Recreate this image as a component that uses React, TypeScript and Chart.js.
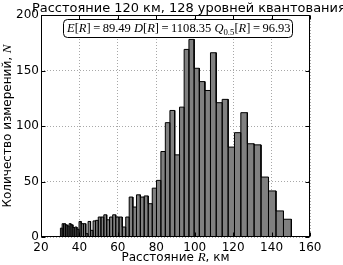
import { useEffect, useRef } from "react";
import { Chart, registerables } from "chart.js";

Chart.register(...registerables);

// Histogram bin edges (km) — non-uniform bins
const binEdges = [
  30.1, 31.0, 31.8, 32.7, 33.6, 34.6, 35.6, 36.6, 37.6, 38.7,
  39.8, 40.9, 42.1, 43.3, 44.5, 45.8, 47.1, 48.4, 49.8, 51.2,
  52.7, 54.2, 55.7, 57.3, 58.9, 60.6, 62.3, 64.1, 65.9, 67.8,
  69.7, 71.7, 73.7, 75.8, 77.9, 80.1, 82.4, 84.7, 87.1, 89.6,
  92.1, 94.5, 97.0, 99.7, 102.4, 105.3, 108.2, 111.2, 114.3, 117.4,
  120.7, 124.0, 127.4, 130.9, 134.5, 138.4, 142.3, 146.2, 150.3,
];

// Counts per bin
const counts = [
  8, 12, 12, 11, 10, 12, 11, 8.5, 9, 7,
  14, 12, 12, 3, 14, 6, 14.5, 15, 18, 18,
  20, 15.5, 18, 20, 18, 18, 9, 18, 36, 27,
  38, 36, 37, 30, 44, 51, 77, 103, 114, 74,
  117, 169, 178, 152, 140, 132, 166, 121, 124, 81,
  94, 112, 84, 83, 54, 41.5, 23.5, 16,
];

const xRange = [20, 160];
const yRange = [0, 200];
const xStep = 20;
const yStep = 50;

const titleText = "Расстояние 120 км, 128 уровней квантования";
const yLabelText = "Количество измерений, ";
const yLabelVar = "N";
const xLabelText = "Расстояние ";
const xLabelVar = "R";
const xLabelUnit = ", км";
const statE = "89.49";
const statD = "1108.35";
const statQ = "96.93";
const statQSub = "0.5";

const SANS = "'DejaVu Sans', sans-serif";
const SERIF = "'Liberation Serif', serif";

type Seg = { t: string; k: "i" | "r" | "s" };

function drawSegs(ctx: CanvasRenderingContext2D, segs: Seg[], x0: number, y: number, size: number, targetW: number) {
  const fontFor = (k: string, s: number) =>
    k === "i" ? `italic ${s}px ${SERIF}` : k === "s" ? `${s * 0.7}px ${SERIF}` : `${s}px ${SERIF}`;
  const measure = (s: number) => {
    let w = 0;
    for (const sg of segs) {
      ctx.font = fontFor(sg.k, s);
      w += ctx.measureText(sg.t).width;
    }
    return w;
  };
  const s = size * (targetW / measure(size));
  let x = x0;
  ctx.textBaseline = "alphabetic";
  ctx.textAlign = "left";
  for (const sg of segs) {
    ctx.font = fontFor(sg.k, s);
    ctx.fillText(sg.t, x, sg.k === "s" ? y + s * 0.22 : y);
    x += ctx.measureText(sg.t).width;
  }
}

const decorPlugin = {
  id: "decor",
  afterDraw(chart: any) {
    const ctx: CanvasRenderingContext2D = chart.ctx;
    const ca = chart.chartArea;
    const xs = chart.scales.x;
    const ys = chart.scales.y;
    ctx.save();
    ctx.fillStyle = "#000";
    ctx.strokeStyle = "#000";

    // frame
    const L = Math.round(ca.left) + 0.5;
    const R = Math.round(ca.right) - 0.5;
    const T = Math.round(ca.top) + 0.5;
    const B = Math.round(ca.bottom) - 0.5;
    ctx.lineWidth = 1;
    ctx.strokeRect(L, T, R - L, B - T);

    // inward ticks on all sides
    ctx.beginPath();
    for (let v = xRange[0]; v <= xRange[1]; v += xStep) {
      const px = Math.round(xs.getPixelForValue(v)) + 0.5;
      ctx.moveTo(px, B);
      ctx.lineTo(px, B - 4);
      ctx.moveTo(px, T);
      ctx.lineTo(px, T + 4);
    }
    for (let v = yRange[0]; v <= yRange[1]; v += yStep) {
      const py = Math.round(ys.getPixelForValue(v)) + 0.5;
      ctx.moveTo(L, py);
      ctx.lineTo(L + 4, py);
      ctx.moveTo(R, py);
      ctx.lineTo(R - 4, py);
    }
    ctx.stroke();

    // title
    ctx.font = `13px ${SANS}`;
    const tw = ctx.measureText(titleText).width;
    const ts = 13 * (314 / tw);
    ctx.font = `${ts}px ${SANS}`;
    ctx.textAlign = "left";
    ctx.textBaseline = "alphabetic";
    ctx.fillText(titleText, 32, 11.5);

    // x label
    const xl1 = `12px ${SANS}`;
    const xl2 = `italic 13px ${SERIF}`;
    ctx.font = xl1;
    const w1 = ctx.measureText(xLabelText).width;
    const w3 = ctx.measureText(xLabelUnit).width;
    ctx.font = xl2;
    const w2 = ctx.measureText(xLabelVar).width;
    const xc = (ca.left + ca.right) / 2;
    let xx = xc - (w1 + w2 + w3) / 2;
    ctx.font = xl1;
    ctx.fillText(xLabelText, xx, 261);
    xx += w1;
    ctx.font = xl2;
    ctx.fillText(xLabelVar, xx, 261);
    xx += w2;
    ctx.font = xl1;
    ctx.fillText(xLabelUnit, xx, 261);

    // y label (rotated)
    ctx.save();
    ctx.translate(11, (ca.top + ca.bottom) / 2);
    ctx.rotate(-Math.PI / 2);
    ctx.font = xl1;
    const y1 = ctx.measureText(yLabelText).width;
    ctx.font = xl2;
    const y2 = ctx.measureText(yLabelVar).width;
    let yy = -(y1 + y2) / 2;
    ctx.font = xl1;
    ctx.fillText(yLabelText, yy, 0);
    yy += y1;
    ctx.font = xl2;
    ctx.fillText(yLabelVar, yy, 0);
    ctx.restore();

    // stats box
    ctx.beginPath();
    ctx.lineWidth = 1;
    (ctx as any).roundRect(63.5, 19.5, 229, 18, 4);
    ctx.fillStyle = "#fff";
    ctx.fill();
    ctx.strokeStyle = "#000";
    ctx.stroke();
    ctx.fillStyle = "#000";
    const segs: Seg[] = [
      { t: "E", k: "i" }, { t: "[", k: "r" }, { t: "R", k: "i" }, { t: "]", k: "r" },
      { t: "\u2009=\u2009" + statE + " ", k: "r" },
      { t: "D", k: "i" }, { t: "[", k: "r" }, { t: "R", k: "i" }, { t: "]", k: "r" },
      { t: "\u2009=\u2009" + statD + " ", k: "r" },
      { t: "Q", k: "i" }, { t: statQSub, k: "s" }, { t: "[", k: "r" }, { t: "R", k: "i" }, { t: "]", k: "r" },
      { t: "\u2009=\u2009" + statQ, k: "r" },
    ];
    drawSegs(ctx, segs, 67, 32, 13, 224);
    ctx.restore();
  },
};

export default function App() {
  const ref = useRef<HTMLCanvasElement | null>(null);

  useEffect(() => {
    if (!ref.current) return;
    const points: { x: number; y: number }[] = [];
    for (let i = 0; i < counts.length; i++) {
      points.push(
        { x: binEdges[i], y: 0 },
        { x: binEdges[i], y: counts[i] },
        { x: binEdges[i + 1], y: counts[i] },
        { x: binEdges[i + 1], y: 0 }
      );
    }
    const tickFont = { family: SANS, size: 12 };
    const chart = new Chart(ref.current, {
      type: "line",
      data: {
        datasets: [
          {
            data: points,
            fill: "origin",
            backgroundColor: "#808080",
            borderColor: "#000",
            borderWidth: 1,
            pointRadius: 0,
            tension: 0,
          },
        ],
      },
      options: {
        animation: false,
        responsive: false,
        devicePixelRatio: 1,
        layout: { padding: { top: 15, right: 33, left: 0, bottom: 0 } },
        plugins: {
          legend: { display: false },
          tooltip: { enabled: false },
          title: { display: false },
        },
        scales: {
          x: {
            type: "linear",
            min: xRange[0],
            max: xRange[1],
            ticks: { stepSize: xStep, color: "#000", font: tickFont, padding: 4, maxRotation: 0, autoSkip: false },
            grid: { color: "#a8a8a8", lineWidth: 1, drawTicks: false },
            border: { display: false, dash: [1, 2] },
            afterFit: (s: any) => {
              s.height = 28;
            },
          },
          y: {
            type: "linear",
            min: yRange[0],
            max: yRange[1],
            ticks: { stepSize: yStep, color: "#000", font: tickFont, padding: 2 },
            grid: { color: "#a8a8a8", lineWidth: 1, drawTicks: false },
            border: { display: false, dash: [1, 2] },
            afterFit: (s: any) => {
              s.width = 41;
            },
          },
        },
      },
      plugins: [decorPlugin],
    } as any);
    return () => chart.destroy();
  }, []);

  return (
    <div style={{ position: "fixed", left: 0, top: 0, width: 343, height: 265, background: "#fff" }}>
      <canvas ref={ref} width={343} height={265} style={{ width: 343, height: 265, display: "block" }} />
    </div>
  );
}
